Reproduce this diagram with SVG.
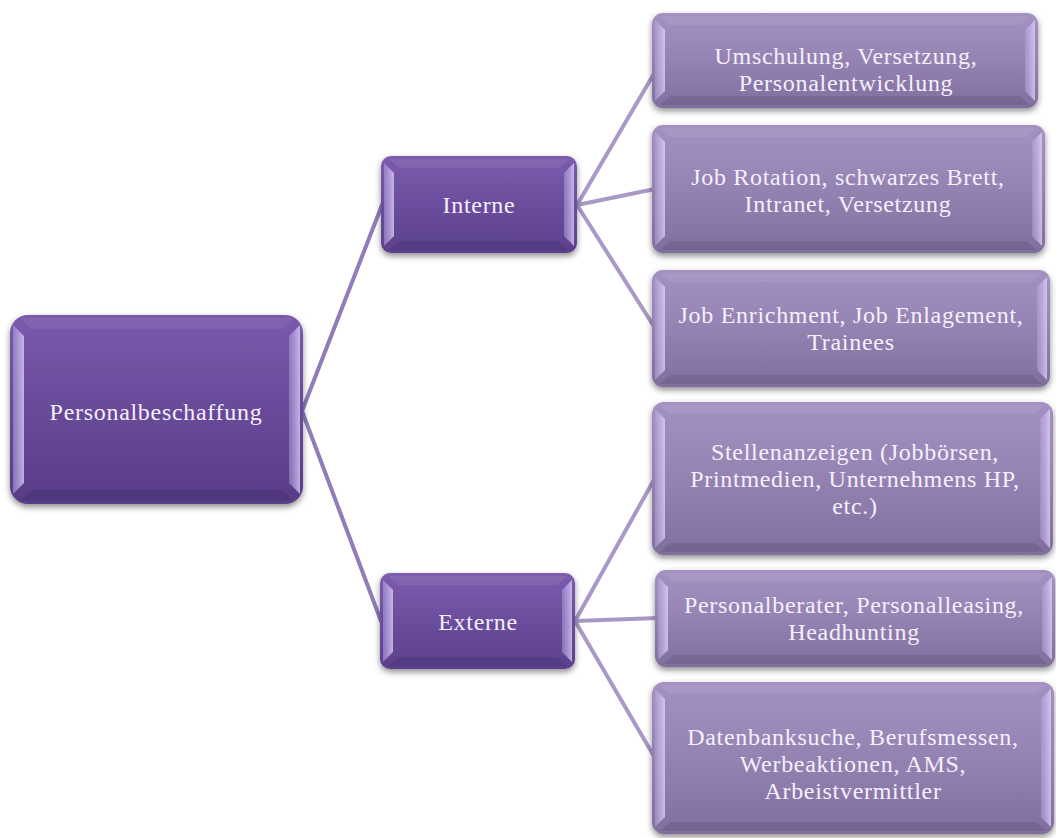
<svg xmlns="http://www.w3.org/2000/svg" width="1056" height="838" viewBox="0 0 1056 838">
<style>
.t{font-family:"Liberation Serif","Times New Roman",serif;font-size:24px;letter-spacing:0.7px;fill:#f5effb;text-anchor:middle}
.c1{stroke:#8f7cb8;stroke-width:4;fill:none;stroke-linecap:round}
.c2{stroke:#a999c6;stroke-width:4;fill:none;stroke-linecap:round}
.hl{fill:url(#hlg)}
.hr{fill:url(#hrg)}
.tp{fill:#ffffff;opacity:0.07}
.bt{fill:#000000;opacity:0.09}
.dark{fill:url(#gDark);filter:url(#sh)}
.mid{fill:url(#gMid);filter:url(#sh)}
.light{fill:url(#gLight);filter:url(#sh)}
</style>
<defs>
<linearGradient id="gDark" x1="0" y1="0" x2="0" y2="1">
<stop offset="0" stop-color="#7a5aac"/><stop offset="0.5" stop-color="#684a9a"/><stop offset="1" stop-color="#583c87"/>
</linearGradient>
<linearGradient id="gMid" x1="0" y1="0" x2="0" y2="1">
<stop offset="0" stop-color="#7c5cae"/><stop offset="0.5" stop-color="#6b4d9d"/><stop offset="1" stop-color="#5c408c"/>
</linearGradient>
<linearGradient id="gLight" x1="0" y1="0" x2="0" y2="1">
<stop offset="0" stop-color="#a391c2"/><stop offset="0.5" stop-color="#9483b2"/><stop offset="1" stop-color="#7f6e9e"/>
</linearGradient>
<linearGradient id="hlg" x1="0" y1="0" x2="1" y2="0">
<stop offset="0" stop-color="#b9a6e0" stop-opacity="0.5"/><stop offset="1" stop-color="#e2d6ff" stop-opacity="0.75"/>
</linearGradient>
<linearGradient id="hrg" x1="1" y1="0" x2="0" y2="0">
<stop offset="0" stop-color="#e2d6ff" stop-opacity="0.75"/><stop offset="1" stop-color="#b9a6e0" stop-opacity="0.45"/>
</linearGradient>
<filter id="sh" x="-10%" y="-10%" width="120%" height="130%">
<feDropShadow dx="0" dy="3" stdDeviation="3" flood-color="#000" flood-opacity="0.45"/>
</filter>
</defs>
<rect width="1056" height="838" fill="#ffffff"/>
<g id="connectors">
<line class="c1" x1="302" y1="411" x2="382" y2="205"/>
<line class="c1" x1="302" y1="411" x2="381" y2="621"/>
<line class="c2" x1="577" y1="205" x2="662" y2="60"/>
<line class="c2" x1="577" y1="205" x2="655" y2="189"/>
<line class="c2" x1="577" y1="205" x2="655" y2="328"/>
<line class="c2" x1="575" y1="621" x2="655" y2="478"/>
<line class="c2" x1="575" y1="621" x2="658" y2="618"/>
<line class="c2" x1="575" y1="621" x2="655" y2="758"/>
</g>
<g id="root">
<rect class="dark" x="10" y="315" width="293" height="189" rx="18"/>
<path class="hl" d="M13,325 L24,336 L24,483 L13,494 Z"/>
<path class="hr" d="M300,325 L289,336 L289,483 L300,494 Z"/>
<path class="tp" d="M20,318 L293,318 L282,329 L31,329 Z"/>
<path class="bt" d="M20,501 L293,501 L282,490 L31,490 Z"/>
<text class="t" x="156" y="420">Personalbeschaffung</text>
</g>
<g id="interne">
<rect class="mid" x="381" y="156" width="196" height="97" rx="10"/>
<path class="hl" d="M384,163 L394,173 L394,236 L384,246 Z"/>
<path class="hr" d="M574,163 L564,173 L564,236 L574,246 Z"/>
<path class="tp" d="M389,159 L569,159 L559,168 L399,168 Z"/>
<path class="bt" d="M389,250 L569,250 L559,241 L399,241 Z"/>
<text class="t" x="479" y="213">Interne</text>
</g>
<g id="externe">
<rect class="mid" x="380" y="573" width="195" height="96" rx="10"/>
<path class="hl" d="M383,580 L393,590 L393,652 L383,662 Z"/>
<path class="hr" d="M572,580 L562,590 L562,652 L572,662 Z"/>
<path class="tp" d="M388,576 L567,576 L557,585 L398,585 Z"/>
<path class="bt" d="M388,666 L567,666 L557,657 L398,657 Z"/>
<text class="t" x="478" y="630">Externe</text>
</g>
<g id="i1">
<rect class="light" x="652" y="13" width="386" height="95" rx="11"/>
<path class="hl" d="M655,20 L665,30 L665,91 L655,101 Z"/>
<path class="hr" d="M1035,20 L1025,30 L1025,91 L1035,101 Z"/>
<path class="tp" d="M660,16 L1030,16 L1020,25 L670,25 Z"/>
<path class="bt" d="M660,105 L1030,105 L1020,96 L670,96 Z"/>
<text class="t" x="846" y="64">Umschulung, Versetzung,</text>
<text class="t" x="846" y="91">Personalentwicklung</text>
</g>
<g id="i2">
<rect class="light" x="652" y="125" width="393" height="128" rx="11"/>
<path class="hl" d="M655,132 L665,142 L665,236 L655,246 Z"/>
<path class="hr" d="M1042,132 L1032,142 L1032,236 L1042,246 Z"/>
<path class="tp" d="M660,128 L1037,128 L1027,137 L670,137 Z"/>
<path class="bt" d="M660,250 L1037,250 L1027,241 L670,241 Z"/>
<text class="t" x="848" y="185">Job Rotation, schwarzes Brett,</text>
<text class="t" x="848" y="212">Intranet, Versetzung</text>
</g>
<g id="i3">
<rect class="light" x="652" y="270" width="398" height="117" rx="11"/>
<path class="hl" d="M655,277 L665,287 L665,370 L655,380 Z"/>
<path class="hr" d="M1047,277 L1037,287 L1037,370 L1047,380 Z"/>
<path class="tp" d="M660,273 L1042,273 L1032,282 L670,282 Z"/>
<path class="bt" d="M660,384 L1042,384 L1032,375 L670,375 Z"/>
<text class="t" x="851" y="323">Job Enrichment, Job Enlagement,</text>
<text class="t" x="851" y="350">Trainees</text>
</g>
<g id="e1">
<rect class="light" x="652" y="402" width="401" height="153" rx="12"/>
<path class="hl" d="M655,409 L665,419 L665,538 L655,548 Z"/>
<path class="hr" d="M1050,409 L1040,419 L1040,538 L1050,548 Z"/>
<path class="tp" d="M660,405 L1045,405 L1035,414 L670,414 Z"/>
<path class="bt" d="M660,552 L1045,552 L1035,543 L670,543 Z"/>
<text class="t" x="855" y="460">Stellenanzeigen (Jobbörsen,</text>
<text class="t" x="855" y="487">Printmedien, Unternehmens HP,</text>
<text class="t" x="855" y="514">etc.)</text>
</g>
<g id="e2">
<rect class="light" x="655" y="570" width="400" height="97" rx="11"/>
<path class="hl" d="M658,577 L668,587 L668,650 L658,660 Z"/>
<path class="hr" d="M1052,577 L1042,587 L1042,650 L1052,660 Z"/>
<path class="tp" d="M663,573 L1047,573 L1037,582 L673,582 Z"/>
<path class="bt" d="M663,664 L1047,664 L1037,655 L673,655 Z"/>
<text class="t" x="854" y="613">Personalberater, Personalleasing,</text>
<text class="t" x="854" y="640">Headhunting</text>
</g>
<g id="e3">
<rect class="light" x="652" y="682" width="402" height="152" rx="12"/>
<path class="hl" d="M655,689 L665,699 L665,817 L655,827 Z"/>
<path class="hr" d="M1051,689 L1041,699 L1041,817 L1051,827 Z"/>
<path class="tp" d="M660,685 L1046,685 L1036,694 L670,694 Z"/>
<path class="bt" d="M660,831 L1046,831 L1036,822 L670,822 Z"/>
<text class="t" x="853" y="745">Datenbanksuche, Berufsmessen,</text>
<text class="t" x="853" y="772">Werbeaktionen, AMS,</text>
<text class="t" x="853" y="799">Arbeistvermittler</text>
</g>
</svg>
